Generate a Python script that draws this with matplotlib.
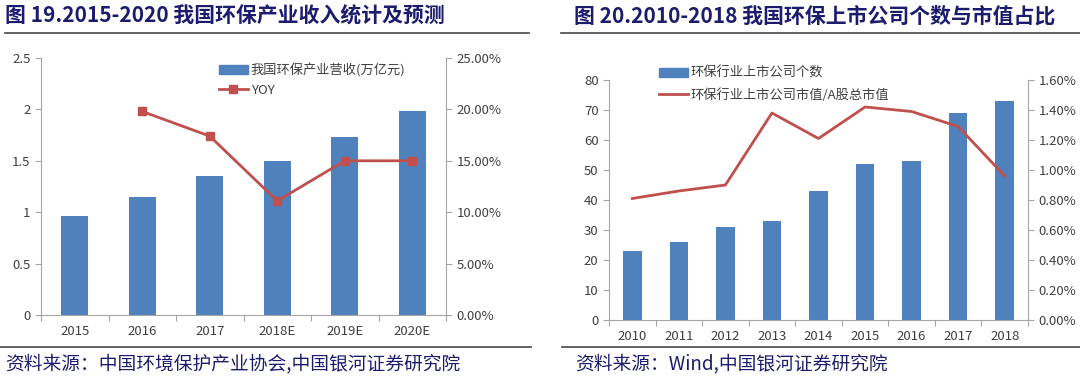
import matplotlib
matplotlib.use("Agg")
import matplotlib.pyplot as plt
from matplotlib.lines import Line2D
from matplotlib.patches import Patch

plt.rcParams['font.family'] = ['Noto Sans CJK SC', 'DejaVu Sans']

# ---- 数据 ----
# 图19: 环保产业营收 (万亿元) 与 YOY
years_l = ['2015', '2016', '2017', '2018E', '2019E', '2020E']
revenue = [0.96, 1.15, 1.35, 1.50, 1.73, 1.98]
yoy_years = ['2016', '2017', '2018E', '2019E', '2020E']
yoy = [19.8, 17.4, 11.1, 15.0, 15.0]

# 图20: 上市公司个数与市值占比
years_r = ['2010', '2011', '2012', '2013', '2014', '2015', '2016', '2017', '2018']
n_companies = [23, 26, 31, 33, 43, 52, 53, 69, 73]
mv_share = [0.81, 0.86, 0.90, 1.38, 1.21, 1.42, 1.39, 1.29, 0.96]

BLUE = '#4F81BD'
RED = '#C0504D'
NAVY = '#1c1c6e'
GRAY = '#a6a6a6'
TXT = '#404040'
FS = 9.5

fig = plt.figure(figsize=(10.8, 3.81), dpi=100)
W, H = 1080, 381


def px_axes(x0, y0, x1, y1):
    return fig.add_axes([x0 / W, 1 - y1 / H, (x1 - x0) / W, (y1 - y0) / H])


def style(ax, ax2, n):
    for a in (ax, ax2):
        for s in a.spines.values():
            s.set_color(GRAY)
        a.spines['top'].set_visible(False)
        a.tick_params(colors=GRAY, labelcolor=TXT, labelsize=FS, length=4)
    ax.spines['right'].set_visible(False)
    ax2.spines['left'].set_visible(False)
    ax2.spines['bottom'].set_visible(False)
    ax.set_xlim(-0.5, n - 0.5)
    # x 刻度线位于分类之间, 标签位于分类中心
    ax.set_xticks([i - 0.5 for i in range(n + 1)], minor=False)
    ax.set_xticklabels([])
    ax.set_xticks(range(n), minor=True)
    ax.tick_params(axis='x', which='minor', length=0, labelsize=FS, labelcolor=TXT, pad=7)


# ---- 图19 ----
ax = px_axes(41, 58, 446, 315)
ax.bar(range(len(years_l)), revenue, width=0.4, color=BLUE, zorder=2)
ax.set_ylim(0, 2.5)
ax.set_yticks([0, 0.5, 1, 1.5, 2, 2.5])
ax.set_yticklabels(['0', '0.5', '1', '1.5', '2', '2.5'])
ax2 = ax.twinx()
xi = [years_l.index(y) for y in yoy_years]
ax2.plot(xi, yoy, color=RED, lw=2, marker='s', ms=6, zorder=3)
ax2.set_ylim(0, 25)
ax2.set_yticks(range(0, 26, 5))
ax2.set_yticklabels([f'{v:.2f}%' for v in range(0, 26, 5)])
style(ax, ax2, len(years_l))
ax.set_xticklabels(years_l, minor=True)
ax2.legend([Patch(color=BLUE), Line2D([], [], color=RED, lw=2, marker='s', ms=6)],
           ['我国环保产业营收(万亿元)', 'YOY'], loc='upper left',
           bbox_to_anchor=(0.41, 1.025), frameon=False, fontsize=FS,
           handlelength=2.2, handletextpad=0.2, labelspacing=0.5, labelcolor=TXT)

# ---- 图20 ----
bx = px_axes(609, 80, 1028, 320)
bx.bar(range(len(years_r)), n_companies, width=0.4, color=BLUE, zorder=2)
bx.set_ylim(0, 80)
bx.set_yticks(range(0, 81, 10))
bx2 = bx.twinx()
bx2.plot(range(len(years_r)), mv_share, color=RED, lw=2, zorder=3)
bx2.set_ylim(0, 1.6)
bx2.set_yticks([i * 0.2 for i in range(9)])
bx2.set_yticklabels([f'{i * 0.2:.2f}%' for i in range(9)])
style(bx, bx2, len(years_r))
bx.set_xticklabels(years_r, minor=True)
bx2.legend([Patch(color=BLUE), Line2D([], [], color=RED, lw=2)],
           ['环保行业上市公司个数', '环保行业上市公司市值/A股总市值'], loc='upper left',
           bbox_to_anchor=(0.09, 1.105), frameon=False, fontsize=FS,
           handlelength=2.2, handletextpad=0.2, labelspacing=0.6, labelcolor=TXT)

# ---- 标题、分隔线、资料来源 ----
fig.text(5 / W, 1 - 16 / H, '图 19.2015-2020 我国环保产业收入统计及预测', color=NAVY,
         fontsize=15, fontweight='bold', va='center', ha='left')
fig.text(574 / W, 1 - 16 / H, '图 20.2010-2018 我国环保上市公司个数与市值占比', color=NAVY,
         fontsize=15, fontweight='bold', va='center', ha='left')
for x0, x1, y in [(5, 529, 33), (561, 1080, 33), (0, 531, 347), (562, 1080, 347)]:
    fig.add_artist(Line2D([x0 / W, x1 / W], [1 - y / H, 1 - y / H], color='#555555', lw=1.3))
fig.text(5 / W, 1 - 364 / H, '资料来源：中国环境保护产业协会,中国银河证券研究院', color=NAVY,
         fontsize=13.5, va='center', ha='left', style='italic')
fig.text(575 / W, 1 - 364 / H, '资料来源：Wind,中国银河证券研究院', color=NAVY,
         fontsize=13.5, va='center', ha='left', style='italic')

fig.savefig('out.png', dpi=100)
